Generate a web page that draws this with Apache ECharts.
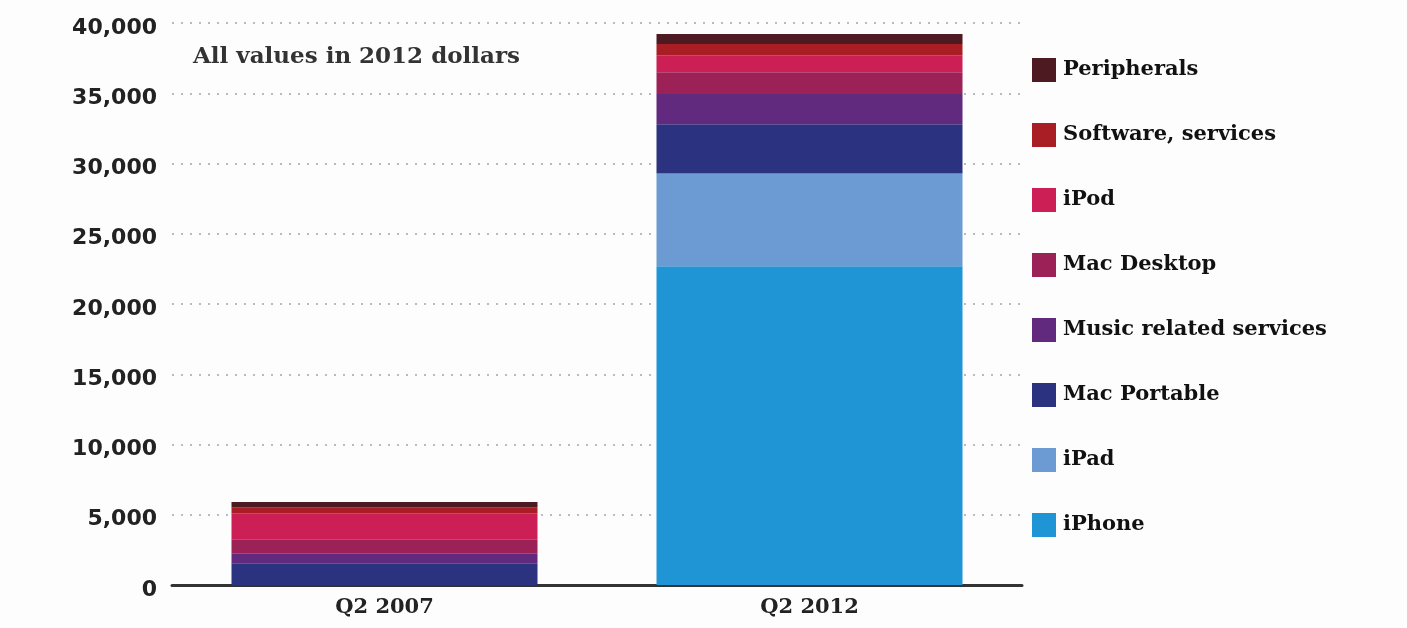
<!DOCTYPE html>
<html><head><meta charset="utf-8">
<script src="https://cdn.jsdelivr.net/npm/echarts@6/dist/echarts.min.js"></script>
<style>html,body{margin:0;padding:0;background:#fdfdfd}#c{width:1407px;height:628px}</style>
</head><body><div id="c"></div>
<script>
const categories = ["Q2 2007", "Q2 2012"];
const seriesNames = ["iPhone", "iPad", "Mac Portable", "Music related services", "Mac Desktop", "iPod", "Software, services", "Peripherals"];
const iPhone = [0, 22690];
const iPad = [0, 6590];
const macPortable = [1550, 3520];
const musicServices = [710, 2150];
const macDesktop = [1000, 1550];
const iPod = [1850, 1210];
const softwareServices = [430, 790];
const peripherals = [360, 710];
const yTicks = [0, 5000, 10000, 15000, 20000, 25000, 30000, 35000, 40000];
const colors = ["#2095d5", "#6b9bd2", "#2b3280", "#622a7f", "#9b2157", "#cc1f55", "#a91d24", "#4e1a22"];
const values = [iPhone, iPad, macPortable, musicServices, macDesktop, iPod, softwareServices, peripherals];

const font = "DejaVu Serif";
const chart = echarts.init(document.getElementById('c'));
chart.setOption({
  backgroundColor: '#fdfdfd',
  animation: false,
  grid: {left: 172, right: 385, top: 23, bottom: 43},
  graphic: [{type: 'text', left: 193, top: 46, style: {text: 'All values in 2012 dollars', font: 'bold 23px "' + font + '"', fill: '#333'}}],
  legend: {
    orient: 'vertical', left: 1032, top: 58, padding: 0,
    itemWidth: 24, itemHeight: 24, itemGap: 41,
    icon: 'rect',
    data: seriesNames.slice().reverse(),
    textStyle: {fontFamily: font, fontWeight: 'bold', fontSize: 21, color: '#111', padding: [0,0,0,2]}
  },
  xAxis: {
    type: 'category', data: categories,
    axisLine: {lineStyle: {color: '#333', width: 3}},
    axisTick: {show: false},
    axisLabel: {fontFamily: font, fontWeight: 'bold', fontSize: 21, color: '#222', margin: 12}
  },
  yAxis: {
    type: 'value', min: 0, max: 40000, interval: 5000,
    axisLine: {show: false}, axisTick: {show: false},
    axisLabel: {margin: 15,
      formatter: v => yTicks.includes(v) ? '{a|' + v.toLocaleString('en-US') + '}' : '',
      rich: {a: {fontFamily: 'DejaVu Sans', fontWeight: 'bold', fontSize: 22, color: '#222', padding: [10, 0, 0, 0]}}},
    splitLine: {lineStyle: {color: '#bbb', type: [2, 7], width: 2}}
  },
  series: seriesNames.map((n, i) => ({
    name: n, type: 'bar', stack: 'total', data: values[i],
    barWidth: '72%', itemStyle: {color: colors[i]}, z: 3
  }))
});
</script></body></html>
